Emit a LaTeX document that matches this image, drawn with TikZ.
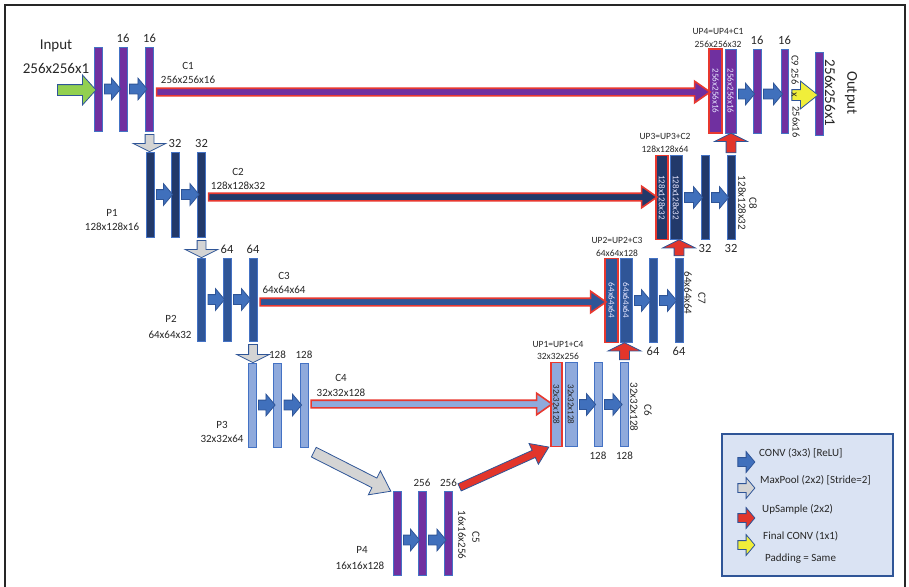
\documentclass[tikz,border=0pt]{standalone}
\usepackage{fontspec}
\setmainfont{Carlito}
\usetikzlibrary{shapes.arrows,positioning,calc}

\definecolor{purp}{HTML}{7030A0}
\definecolor{navy}{HTML}{22396A}
\definecolor{midblue}{HTML}{2F5597}
\definecolor{lightblue}{HTML}{8FAADC}
\definecolor{bordblue}{HTML}{4472C4}
\definecolor{edgeblue}{HTML}{2F5597}
\definecolor{convblue}{HTML}{4070BC}
\definecolor{poolgray}{HTML}{D4D4D4}
\definecolor{upred}{HTML}{E2352B}
\definecolor{skipred}{HTML}{E8382F}
\definecolor{finyellow}{HTML}{F0EE3A}
\definecolor{ingreen}{HTML}{92D050}
\definecolor{legfill}{HTML}{DAE3F3}
\definecolor{txt}{HTML}{262626}

\tikzset{
    bar/.style={rectangle, draw=bordblue, line width=0.9pt, inner sep=0pt,
        minimum width=8pt, minimum height=84pt},
    upbar/.style={bar, draw=skipred, line width=1.4pt},
    lbl/.style={font=\fontsize{11}{13}\selectfont, text=txt, inner sep=0pt},
    lblsm/.style={font=\fontsize{9.5}{11}\selectfont, text=txt, inner sep=0pt},
    big/.style={font=\fontsize{15}{17}\selectfont, text=txt, inner sep=0pt},
    num/.style={font=\fontsize{12.5}{14}\selectfont, text=txt, inner sep=0pt},
    numsm/.style={font=\fontsize{11}{13}\selectfont, text=txt, inner sep=0pt},
    side/.style={lbl, rotate=-90},
    intext/.style={font=\fontsize{9}{10}\selectfont, text=white!90!blue, inner sep=0pt, rotate=-90},
    blkarrow/.style={single arrow, inner xsep=0pt, draw=edgeblue, line width=0.8pt},
    conv/.style={blkarrow, fill=convblue, inner ysep=4.5pt,
        single arrow head extend=6pt, single arrow tip angle=100},
    pool/.style={blkarrow, fill=poolgray, inner ysep=4pt,
        single arrow head extend=12pt, single arrow tip angle=127},
    upar/.style={blkarrow, fill=upred, inner ysep=4.5pt,
        single arrow head extend=11.5pt, single arrow tip angle=127},
    fin/.style={blkarrow, fill=finyellow, inner ysep=5pt,
        single arrow head extend=8.5pt, single arrow tip angle=77},
    skip/.style={single arrow, inner xsep=0pt, draw=skipred, line width=1.6pt, inner ysep=3pt,
        single arrow head extend=7pt, single arrow tip angle=70},
    legarr/.style={inner ysep=4pt, single arrow head extend=6pt, single arrow tip angle=100}
}

\newcommand{\blk}[3][]{%
    \path let \p1=(#2), \p2=(#3), \n1={veclen(\x2-\x1,\y2-\y1)} in
        (\p1) -- (\p2) node[midway, sloped, allow upside down, #1, minimum height=\n1] {};}

\begin{document}
\begin{tikzpicture}[x=1pt, y=-1pt]
    \useasboundingbox (0,0) rectangle (909,586);
    \draw[line width=1.3pt, black!85] (5,592) -- (5,5) -- (905,5) -- (905,592);

    % encoder bars
    \foreach \n/\x in {1/98, 2/123, 3/149.5}
        \node[bar, fill=purp] (e1\n) at (\x,89) {};
    \foreach \n/\x in {1/150, 2/175, 3/201.5}
        \node[bar, fill=navy, minimum height=85pt] (e2\n) at (\x,194.5) {};
    \foreach \n/\x in {1/201.5, 2/227, 3/253}
        \node[bar, fill=midblue, minimum height=83pt] (e3\n) at (\x,299.5) {};
    \foreach \n/\x in {1/252, 2/277.5, 3/304}
        \node[bar, fill=lightblue] (e4\n) at (\x,405) {};
    \foreach \n/\x in {1/397, 2/422, 3/448.5}
        \node[bar, fill=purp] (e5\n) at (\x,533) {};

    % decoder bars
    \node[upbar, fill=lightblue, minimum width=11pt] (d41a) at (556.5,404.5) {};
    \node[bar, fill=lightblue, minimum width=12pt] (d41b) at (571,404.5) {};
    \node[bar, fill=lightblue] (d42) at (598,404.5) {};
    \node[bar, fill=lightblue] (d43) at (624.5,404.5) {};

    \node[upbar, fill=midblue, minimum width=13pt] (d31a) at (611.5,300.5) {};
    \node[bar, fill=midblue, minimum width=12pt] (d31b) at (626,300.5) {};
    \node[bar, fill=midblue] (d32) at (653,300.5) {};
    \node[bar, fill=midblue] (d33) at (679,300.5) {};

    \node[upbar, fill=navy, minimum width=12pt] (d21a) at (662,197.5) {};
    \node[bar, fill=navy, minimum width=12pt] (d21b) at (676,197.5) {};
    \node[bar, fill=navy] (d22) at (705,197.5) {};
    \node[bar, fill=navy] (d23) at (731,197.5) {};

    \node[upbar, fill=purp, minimum width=13pt] (d11a) at (715.5,91) {};
    \node[bar, fill=purp, minimum width=11pt] (d11b) at (730.5,91) {};
    \node[bar, fill=purp] (d12) at (757,91) {};
    \node[bar, fill=purp, minimum width=7pt] (d13) at (784.5,91) {};
    \node[bar, fill=purp, minimum height=83pt] (outb) at (819,93.5) {};

    % texts inside the concatenated bars
    \node[intext] at (d11a) {256x256x16};
    \node[intext] at (d11b) {256x256x16};
    \node[intext] at (d21a) {128x128x32};
    \node[intext] at (d21b) {128x128x32};
    \node[intext] at (d31a) {64x64x64};
    \node[intext] at (d31b) {64x64x64};
    \node[intext, text=txt] at (d41a) {32x32x128};
    \node[intext, text=txt] at (d41b) {32x32x128};

    % filter counts
    \foreach \b/\t in {e12/16, e13/16, e22/32, e23/32, e32/64, e33/64, d12/16, d13/16}
        \node[num, above=4pt of \b] {\t};
    \foreach \b/\t in {e42/128, e43/128, e52/256, e53/256}
        \node[numsm, above=3.5pt of \b] {\t};
    \foreach \b/\t in {d22/32, d23/32, d32/64, d33/64}
        \node[num, below=4pt of \b] {\t};
    \foreach \b/\t in {d42/128, d43/128}
        \node[numsm, below=5pt of \b] {\t};

    % conv arrows
    \foreach \a/\b in {e11/e12, e12/e13, e21/e22, e22/e23, e31/e32, e32/e33, e41/e42, e42/e43,
            d41b/d42, d42/d43, d31b/d32, d32/d33, d21b/d22, d22/d23}
        \blk[conv]{\a.east}{\b.west};
    \blk[conv]{$(d11b.east)+(0,3)$}{$(d12.west)+(0,3)$};
    \blk[conv]{$(d12.east)+(0,3)$}{$(d13.west)+(0,3)$};
    \blk[conv]{$(e51.east)+(0,7)$}{$(e52.west)+(0,7)$};
    \blk[conv]{$(e52.east)+(0,7)$}{$(e53.west)+(0,7)$};

    % max pooling
    \blk[pool]{$(e13.south)+(0,2)$}{$(e13.south|-e21.north)+(0,-1)$};
    \blk[pool]{$(e23.south)+(0,2)$}{$(e23.south|-e31.north)+(0,-1)$};
    \blk[pool]{$(e33.south)+(0,2)$}{$(e33.south|-e41.north)+(0,-1)$};
    \blk[pool, inner ysep=5pt, single arrow head extend=8pt, single arrow tip angle=72]
        {$(e43.south east)+(2,3)$}{$(e51.north west)+(-5,-1)$};

    % upsampling
    \blk[upar, inner ysep=3.5pt, single arrow head extend=7.5pt, single arrow tip angle=69]
        {$(e53.north east)+(4,-2)$}{$(d41a.south west)+(-4,1)$};
    \blk[upar]{$(d43.north)+(0,-1)$}{$(d43.north|-d31b.south)+(0,1)$};
    \blk[upar]{$(d33.north)+(0,-1)$}{$(d33.north|-d21b.south)+(0,1)$};
    \blk[upar]{$(d23.north)+(0,-1)$}{$(d23.north|-d11b.south)+(0,1)$};

    % skip connections
    \blk[skip, fill=purp]{$(e13.east)+(0,3)$}{$(d11a.west)+(-1,1)$};
    \blk[skip, fill=navy]{$(e23.east)+(0,2.5)$}{$(d21a.west)+(-1,-0.5)$};
    \blk[skip, fill=midblue]{$(e33.east)+(0,2.5)$}{$(d31a.west)+(-1,1.5)$};
    \blk[skip, fill=lightblue]{$(e43.east)+(0,-1)$}{$(d41a.west)+(-1,-0.5)$};

    % input and output
    \coordinate (inp) at (55,90);
    \blk[blkarrow, fill=ingreen, inner ysep=5pt, single arrow head extend=9.5pt,
        single arrow tip angle=96]{inp}{$(e11.west)+(0,1)$};
    \blk[fin]{$(d13.east)+(0,4)$}{$(outb.west)+(0,1.5)$};
    \node[big] at (56,46) {Input};
    \node[big] at (56,68) {256x256x1};
    \node[big, rotate=-90] at (830,93) {256x256x1};
    \node[big, rotate=-90] at (851,93) {Output};
    \node[side, font=\fontsize{10.5}{12}\selectfont] at (795,70) {C9 256};
    \node[side, font=\fontsize{10.5}{12}\selectfont] at (794,95) {x};
    \node[side, font=\fontsize{10.5}{12}\selectfont] at (796,122) {256x16};

    % block labels
    \node[lbl] at (188,66) {C1};
    \node[lbl] at (188,80) {256x256x16};
    \node[lbl] at (238,172) {C2};
    \node[lbl] at (238,186) {128x128x32};
    \node[lbl] at (284,276) {C3};
    \node[lbl] at (284,290) {64x64x64};
    \node[lbl] at (341,378) {C4};
    \node[lbl] at (341,393) {32x32x128};
    \node[lbl] at (112,213) {P1};
    \node[lbl] at (112,227) {128x128x16};
    \node[lbl] at (171,319) {P2};
    \node[lbl] at (170,335) {64x64x32};
    \node[lbl] at (222,425) {P3};
    \node[lbl] at (222,439) {32x32x64};
    \node[lbl] at (362,550) {P4};
    \node[lbl] at (360,566) {16x16x128};
    \node[side] at (462,535) {16x16x256};
    \node[side] at (476,537) {C5};
    \node[side] at (634,407) {32x32x128};
    \node[side] at (648,410) {C6};
    \node[side] at (688,293) {64x64x64};
    \node[side] at (702,298) {C7};
    \node[side] at (742,203) {128x128x32};
    \node[side] at (753,203) {C8};
    \node[lblsm] at (718,31) {UP4=UP4+C1};
    \node[lblsm] at (718,44) {256x256x32};
    \node[lblsm] at (665,136) {UP3=UP3+C2};
    \node[lblsm] at (665,149) {128x128x64};
    \node[lblsm] at (617,240) {UP2=UP2+C3};
    \node[lblsm] at (617,253) {64x64x128};
    \node[lblsm] at (558,344) {UP1=UP1+C4};
    \node[lblsm] at (558,356) {32x32x256};

    % legend
    \draw[fill=legfill, draw=edgeblue, line width=1.2pt] (722,434) rectangle (893,576);
    \foreach \s/\ly in {conv/462, pool/488, upar/518, fin/545}
        \blk[\s, legarr]{736,\ly}{753,\ly};
    \node[lbl, anchor=west] at (759,453) {CONV (3x3) [ReLU]};
    \node[lbl, anchor=west] at (760,480) {MaxPool (2x2) [Stride=2]};
    \node[lbl, anchor=west] at (762,509) {UpSample (2x2)};
    \node[lbl, anchor=west] at (763,536) {Final CONV (1x1)};
    \node[lbl, anchor=west] at (765,559) {Padding = Same};
\end{tikzpicture}
\end{document}
